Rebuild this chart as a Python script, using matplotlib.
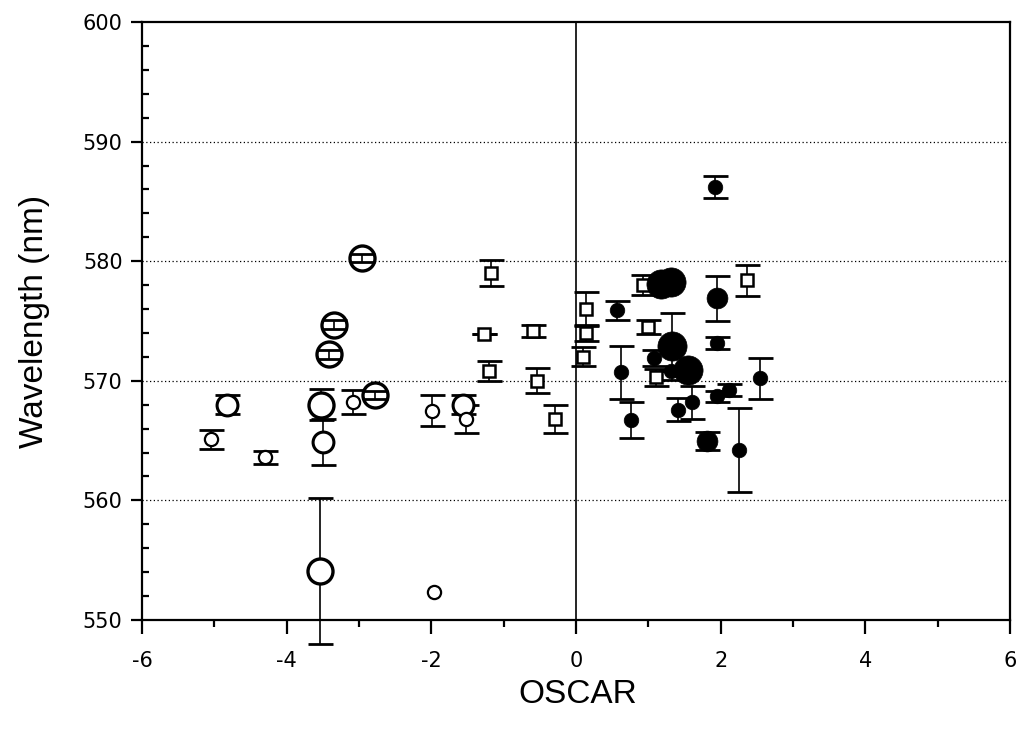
import matplotlib.pyplot as plt
import numpy as np

# open circles: OSCAR, wavelength, error, size class (1 small, 2 medium, 3 large)
open_x = [-5.04, -4.82, -4.30, -3.52, -3.50, -3.54, -3.41, -3.35, -2.96, -3.08, -2.78, -1.99, -1.97, -1.56, -1.52]
open_y = [565.1, 568.0, 563.6, 568.0, 564.9, 554.1, 572.2, 574.7, 580.25, 568.2, 568.8, 567.5, 552.3, 568.0, 566.8]
open_err = [0.8, 0.8, 0.55, 1.3, 1.9, 6.1, 0.35, 0.35, 0.35, 1.0, 0.35, 1.3, 0.0, 0.8, 1.2]
open_size = [1, 2, 1, 3, 2, 3, 3, 3, 3, 1, 3, 1, 1, 2, 1]

# open squares
sq_x = [-1.17, -1.27, -1.20, -0.60, -0.54, -0.29, 0.14, 0.14, 0.09, 0.93, 1.00, 1.11, 2.37]
sq_y = [579.0, 573.9, 570.8, 574.2, 570.0, 566.8, 576.0, 574.0, 572.0, 578.0, 574.5, 570.3, 578.4]
sq_err = [1.1, 0.0, 0.85, 0.5, 1.05, 1.2, 1.45, 0.7, 0.8, 0.85, 0.6, 0.7, 1.3]

# filled circles
fill_x = [1.92, 1.17, 1.31, 1.95, 0.56, 1.95, 1.33, 1.08, 1.55, 1.32, 0.62, 0.76, 1.41, 1.61, 1.95, 2.11, 1.81, 2.25, 2.54]
fill_y = [586.2, 578.1, 578.3, 576.9, 575.9, 573.2, 572.9, 571.9, 570.9, 570.8, 570.7, 566.7, 567.6, 568.2, 568.7, 569.2, 565.0, 564.2, 570.2]
fill_err = [0.95, 0.0, 0.0, 1.9, 0.8, 0.5, 2.8, 0.7, 0.0, 0.0, 2.2, 1.5, 0.95, 1.4, 0.45, 0.5, 0.75, 3.5, 1.7]
fill_size = [1, 3, 3, 2, 1, 1, 3, 1, 3, 1, 1, 1, 1, 1, 1, 1, 2, 1, 1]

open_ms = {1: 9.5, 2: 15, 3: 18}
open_mew = {1: 1.6, 2: 2.2, 3: 2.4}
fill_ms = {1: 10.5, 2: 15, 3: 21}

fig = plt.figure(figsize=(10.18, 7.29), dpi=100)
ax = fig.add_axes([142 / 1018, 1 - 620 / 729, 868 / 1018, 598 / 729])

eb = dict(fmt='none', ecolor='black', elinewidth=1.2, capsize=9, capthick=2.0, clip_on=False)

# error bars below markers
ax.errorbar(sq_x, sq_y, yerr=sq_err, zorder=2, **eb)
ax.errorbar(fill_x, fill_y, yerr=fill_err, zorder=2, **eb)
px_per_nm = 598 / 50 * 0.72  # points per nm
for x, y, e, s in zip(open_x, open_y, open_err, open_size):
    if e == 0:
        continue
    inner = e * px_per_nm < open_ms[s] / 2 - 1
    ax.errorbar([x], [y], yerr=[e], zorder=4 if inner else 2, **eb)

# markers
for x, y, s in zip(open_x, open_y, open_size):
    ax.plot(x, y, 'o', ms=open_ms[s], mfc='white', mec='black', mew=open_mew[s], zorder=3)
ax.plot(sq_x, sq_y, 's', ms=8.5, mfc='white', mec='black', mew=1.8, ls='none', zorder=3)
for x, y, s in zip(fill_x, fill_y, fill_size):
    ax.plot(x, y, 'o', ms=fill_ms[s], mfc='black', mec='black', mew=0.5, zorder=3)

# reference lines
ax.axvline(0, color='black', lw=1.2, zorder=1)
for g in [560, 570, 580, 590]:
    ax.axhline(g, color='black', lw=0.9, ls=(0, (1, 2)), zorder=1)

ax.set_xlim(-6, 6)
ax.set_ylim(550, 600)
ax.set_xticks(np.arange(-6, 7, 2))
ax.set_xticks(np.arange(-5, 6, 2), minor=True)
ax.set_yticks(np.arange(550, 601, 10))
ax.set_yticks(np.arange(550, 601, 2), minor=True)
ax.set_xticklabels(['-6', '-4', '-2', '0', '2', '4', '6'])

for sp in ax.spines.values():
    sp.set_linewidth(1.6)

ax.tick_params(axis='x', which='major', direction='out', length=10, width=1.6, pad=12, labelsize=15)
ax.tick_params(axis='x', which='minor', direction='out', length=5, width=1.6)
ax.tick_params(axis='y', which='major', direction='out', length=8, width=1.6, pad=6, labelsize=15)
ax.tick_params(axis='y', which='minor', direction='in', length=5, width=1.6)

ax.set_xlabel('OSCAR', fontsize=24, family='Liberation Sans')
ax.set_ylabel('Wavelength (nm)', fontsize=24, family='Liberation Sans')
ax.xaxis.set_label_coords(0.502, -0.098)
ax.yaxis.set_label_coords(-0.106, 0.5)

fig.savefig('out.png', dpi=100)
